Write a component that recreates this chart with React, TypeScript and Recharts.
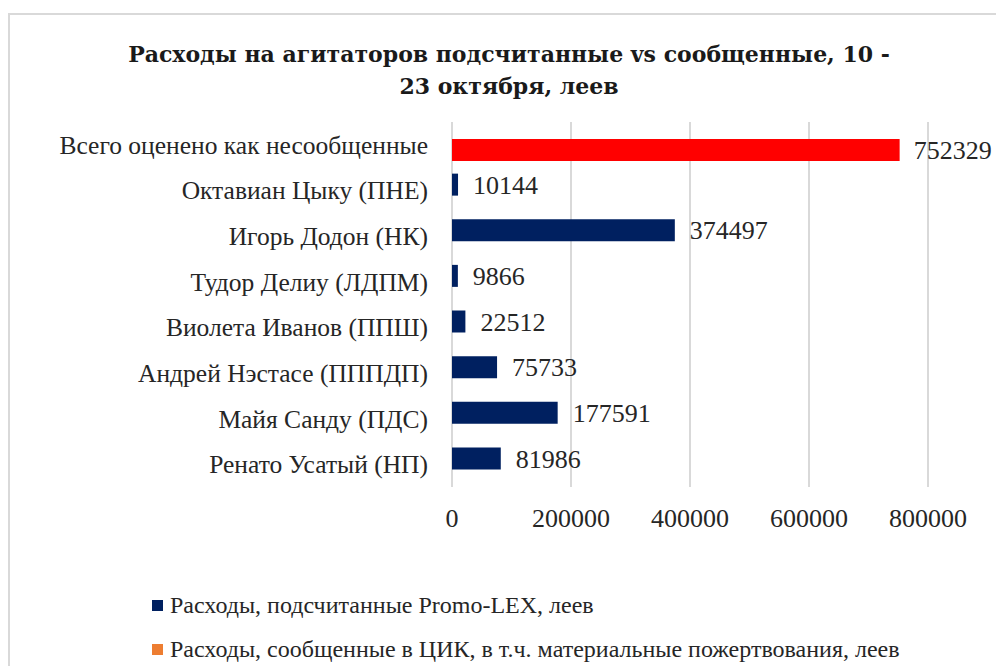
import React from 'react';
import { BarChart, Bar, XAxis, YAxis, CartesianGrid, Legend, LabelList, Cell } from 'recharts';

const categories = [
    'Всего оценено как несообщенные',
    'Октавиан Цыку (ПНЕ)',
    'Игорь Додон (НК)',
    'Тудор Делиу (ЛДПМ)',
    'Виолета Иванов (ППШ)',
    'Андрей Нэстасе (ПППДП) ',
    'Майя Санду (ПДС)',
    'Ренато Усатый (НП)',
];
const promoLex = [null, 10144, 374497, 9866, 22512, 75733, 177591, 81986];
const reportedCik = [752329, null, null, null, null, null, null, null];
const xTicks = [0, 200000, 400000, 600000, 800000];

const promoName = 'Расходы, подсчитанные Promo-LEX, леев';
const reportedName = 'Расходы, сообщенные в ЦИК, в т.ч. материальные пожертвования, леев';

const data = categories.map((name, i) => ({
    name,
    promo: promoLex[i],
    reported: reportedCik[i],
}));

const serif = "'Liberation Serif', serif";
const textColor = '#262626';

const LegendBox = (props: any) => {
    const items = props.payload || [];
    return (
        <div style={{ fontFamily: serif, fontSize: 24, color: textColor, whiteSpace: 'nowrap' }}>
            {items.map((entry: any, i: number) => (
                <div
                    key={entry.value}
                    style={{ display: 'flex', alignItems: 'center', height: 30, marginBottom: i === 0 ? 14 : 0 }}
                >
                    <span style={{ display: 'inline-block', width: 11, height: 11, background: entry.color, marginRight: 7 }} />
                    <span>{entry.value}</span>
                </div>
            ))}
        </div>
    );
};

const App = (): React.ReactElement => {
    return (
        <div style={{ position: 'absolute', left: 0, top: 0, width: 996, height: 666, overflow: 'hidden', background: '#fff' }}>
            <div
                style={{
                    position: 'absolute',
                    left: 8,
                    top: 13,
                    width: 1100,
                    height: 800,
                    borderTop: '2px solid #d9d9d9',
                    borderLeft: '2px solid #d9d9d9',
                }}
            />
            <div
                style={{
                    position: 'absolute',
                    left: 8,
                    top: 38,
                    width: 1002,
                    textAlign: 'center',
                    fontFamily: "'DejaVu Serif', serif",
                    fontWeight: 'bold',
                    fontSize: 22,
                    lineHeight: '32px',
                    color: '#1a1a1a',
                }}
            >
                Расходы на агитаторов подсчитанные vs сообщенные, 10 -<br />
                23 октября, леев
            </div>
            <div style={{ position: 'absolute', left: 0, top: 0 }}>
                <BarChart
                    width={996}
                    height={666}
                    data={data}
                    layout='vertical'
                    barGap={-11}
                    margin={{ top: 122, right: 68, left: 0, bottom: 119 }}
                >
                    <CartesianGrid horizontal={false} stroke='#d9d9d9' strokeWidth={2} />
                    <XAxis
                        type='number'
                        domain={[0, 800000]}
                        ticks={xTicks}
                        height={60}
                        axisLine={false}
                        tickLine={false}
                        tickMargin={16}
                        tick={{ fontFamily: serif, fontSize: 26, fill: textColor }}
                    />
                    <YAxis
                        type='category'
                        dataKey='name'
                        width={452}
                        interval={0}
                        axisLine={false}
                        tickLine={false}
                        tickMargin={18}
                        tick={{ fontFamily: serif, fontSize: 25.5, fill: textColor }}
                    />
                    <Legend
                        layout='vertical'
                        align='center'
                        verticalAlign='middle'
                        wrapperStyle={{ left: 152, top: 590, width: 840 }}
                        content={<LegendBox />}
                    />
                    <Bar dataKey='promo' name={promoName} fill='#002060' barSize={22} isAnimationActive={false}>
                        <LabelList
                            dataKey='promo'
                            position='right'
                            offset={15}
                            style={{ fontFamily: serif, fontSize: 26, fill: textColor }}
                        />
                    </Bar>
                    <Bar dataKey='reported' name={reportedName} fill='#ED7D31' barSize={22} isAnimationActive={false}>
                        {data.map((d) => (
                            <Cell key={d.name} fill='#FF0000' />
                        ))}
                        <LabelList
                            dataKey='reported'
                            position='right'
                            offset={14}
                            style={{ fontFamily: serif, fontSize: 26, fill: textColor }}
                        />
                    </Bar>
                </BarChart>
            </div>
        </div>
    );
};

export default App;
